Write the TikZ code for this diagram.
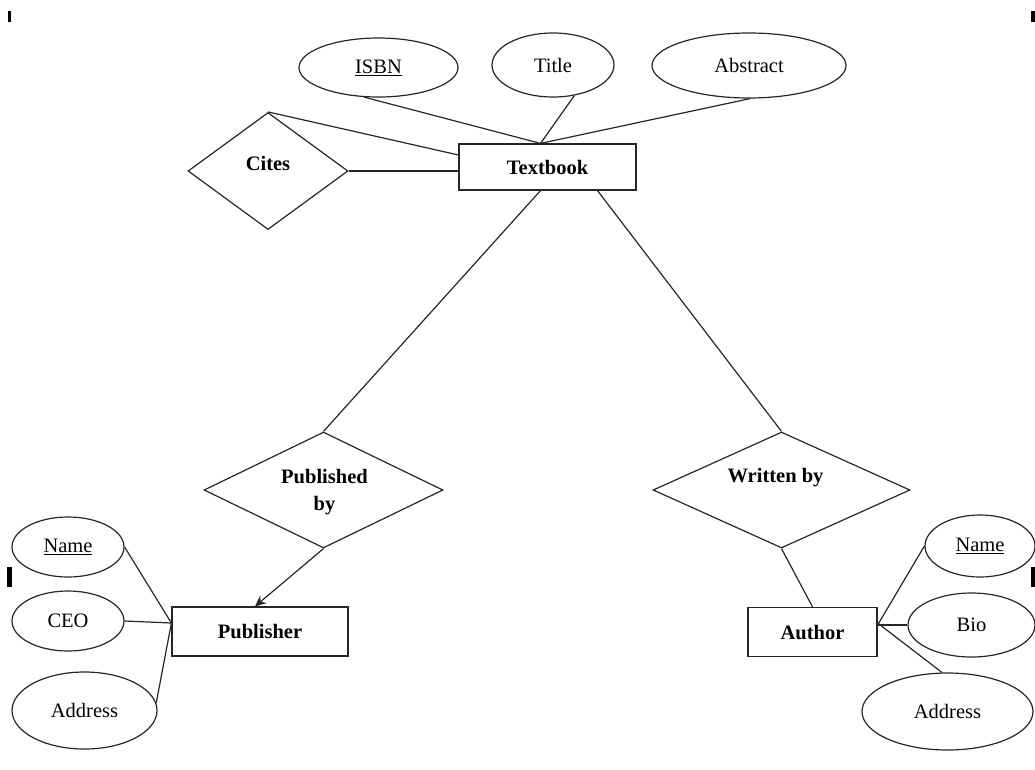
\documentclass[tikz,border=0pt]{standalone}
\usepackage{fontspec}
\setmainfont{Liberation Serif}
\usetikzlibrary{shapes.geometric,arrows.meta,calc}
\begin{document}
\begin{tikzpicture}[x=1pt,y=-1pt,
  every node/.style={font=\fontsize{20.5}{27}\selectfont},
  ln/.style={draw=black!85,line width=1.2pt},
  ent/.style={ln,rectangle,inner sep=0pt,font=\fontsize{20.5}{27}\selectfont\bfseries},
  attr/.style={ln,ellipse,inner sep=0pt},
  rel/.style={ln,diamond,inner sep=0pt},
  lbl/.style={font=\fontsize{20.5}{27}\selectfont\bfseries,align=center}
]
\useasboundingbox (0,0) rectangle (1035,769);
% corner marks
\fill (8,11) rectangle (11,22);
\fill (1031,11) rectangle (1035,22);
\fill (7,567) rectangle (12,587);
\fill (1031,567) rectangle (1035,587);

% entities
\node[ent,minimum width=177pt,minimum height=46pt] (tb) at (547.5,167) {Textbook};
\node[ent,minimum width=176pt,minimum height=49pt] (pub) at (260,631.5) {Publisher};
\node[ent,minimum width=129pt,minimum height=49pt] (auth) at (812.5,632) {Author};

% attributes
\node[attr,minimum width=159pt,minimum height=59pt] (isbn) at (378.5,67.5) {\underline{ISBN}};
\node[attr,minimum width=122pt,minimum height=64pt] (title) at (553,65) {Title};
\node[attr,minimum width=194pt,minimum height=65pt] (abstract) at (749,65.5) {Abstract};
\node[attr,minimum width=112pt,minimum height=60pt] (pname) at (68,547) {\underline{Name}};
\node[attr,minimum width=112pt,minimum height=60pt] (pceo) at (68,621) {CEO};
\node[attr,minimum width=145pt,minimum height=77pt] (paddr) at (84.5,710.5) {Address};
\node[attr,minimum width=110pt,minimum height=62pt] (aname) at (980,546) {\underline{Name}};
\node[attr,minimum width=127pt,minimum height=64pt] (abio) at (971.5,625) {Bio};
\node[attr,minimum width=171pt,minimum height=77pt] (aaddr) at (947.5,711.5) {Address};

% relationships
\node[rel,minimum width=160pt,minimum height=117pt,label={[lbl,yshift=8pt]center:Cites}] (cites) at (268,171) {};
\node[rel,minimum width=239pt,minimum height=116pt,label={[lbl,yshift=-2pt,xshift=1pt]center:Published\\by}] (pubby) at (323.5,490) {};
\node[rel,minimum width=257pt,minimum height=116pt,label={[lbl,yshift=12pt,xshift=-6pt]center:Written by}] (wby) at (781.5,490) {};

% connectors
\draw[ln] (isbn.244) -- ([xshift=-7pt]tb.north);
\draw[ln] (title.305) -- ([xshift=-7pt]tb.north);
\draw[ln] (abstract.272) -- ([xshift=-7pt]tb.north);
\draw[ln] (cites.north) -- ([yshift=12pt]tb.west);
\draw[ln] (cites.east) -- (cites.east -| tb.west);
\draw[ln] ([xshift=-7pt]tb.south) -- (pubby.north);
\draw[ln] ([xshift=50pt]tb.south) -- (wby.north);
\draw[ln,-{Stealth[length=11pt,width=10pt]}] (pubby.south) -- ([xshift=-5pt]pub.north);
\draw[ln] (wby.south) -- (auth.north);
\draw[ln] (pname.east) -- ([yshift=8.5pt]pub.west);
\draw[ln] (pceo.east) -- ([yshift=8.5pt]pub.west);
\draw[ln] (paddr.6) -- ([yshift=8.5pt]pub.west);
\draw[ln] (aname.west) -- ([yshift=7pt]auth.east);
\draw[ln] (abio.west) -- (abio.west -| auth.east);
\draw[ln] (aaddr.98) -- ([yshift=9pt]auth.east);
\end{tikzpicture}
\end{document}
